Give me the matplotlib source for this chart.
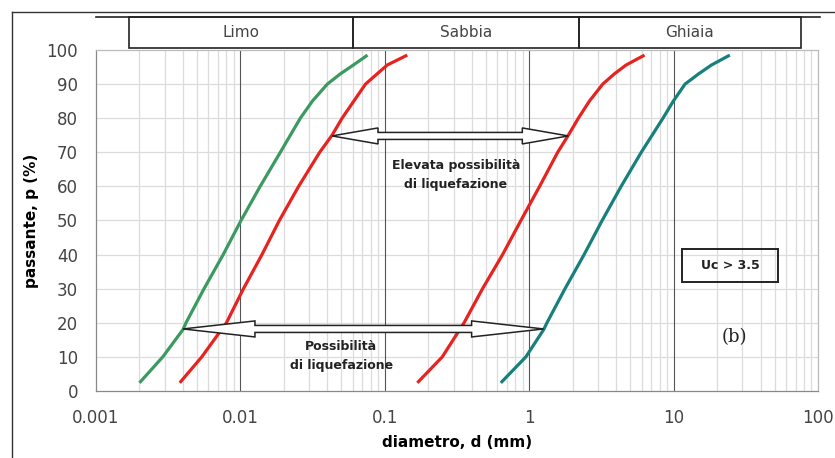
import matplotlib
matplotlib.use("Agg")
import matplotlib.pyplot as plt
from matplotlib.patches import Polygon, Rectangle
from matplotlib.lines import Line2D
from matplotlib.transforms import IdentityTransform
from matplotlib.ticker import FixedLocator, NullFormatter

# curve data (diametro mm, passante %)
green_d = [0.002, 0.0029, 0.004, 0.0042, 0.0056, 0.0076, 0.0101, 0.0137,
           0.0189, 0.026, 0.0315, 0.04, 0.0492, 0.0606, 0.0759]
green_p = [2.4, 10, 18, 20, 30, 40, 50, 60, 70, 80, 85, 90, 93, 95.6, 98.5]
red1_d = [0.0038, 0.0054, 0.0080, 0.0105, 0.0141, 0.0186, 0.0253, 0.0354,
          0.0431, 0.0506, 0.0735, 0.0885, 0.104, 0.143]
red1_p = [2.4, 10, 20, 30, 40, 50, 60, 70, 75, 80, 90, 93, 95.6, 98.5]
red2_d = [0.168, 0.250, 0.354, 0.475, 0.654, 0.876, 1.18, 1.575, 1.866, 2.19,
          2.61, 3.23, 3.89, 4.69, 6.29]
red2_p = [2.4, 10, 20, 30, 40, 50, 60, 70, 75, 80, 85, 90, 93, 95.6, 98.5]
teal_d = [0.636, 0.948, 1.259, 1.327, 1.77, 2.40, 3.20, 4.33, 5.97, 8.44, 9.95,
          12.0, 14.9, 18.3, 24.5]
teal_p = [2.4, 10, 18, 20, 30, 40, 50, 60, 70, 80, 85, 90, 93, 95.6, 98.5]

# soil classes band
band_edges = [0.0017, 0.06, 2.2, 76]
band_labels = ["Limo", "Sabbia", "Ghiaia"]

# arrows: (x start, x end, p)
arrow_hi = (0.0431, 1.866, 74.8)
arrow_lo = (0.004, 1.259, 18.2)

xticks = [0.001, 0.01, 0.1, 1, 10, 100]
xticklabels = ["0.001", "0.01", "0.1", "1", "10", "100"]
yticks = list(range(0, 101, 10))

fig = plt.figure(figsize=(8.35, 4.58), dpi=100)
ax = fig.add_axes([96/835, 67/458, 722/835, 341/458])
ax.set_xscale("log")
ax.set_xlim(0.001, 100)
ax.set_ylim(0, 100)

minor = [m * 10.0**e for e in range(-3, 2) for m in range(2, 10)]
for v in minor:
    ax.axvline(v, color="#dcdcdc", lw=0.9, zorder=0)
for v in yticks[1:-1]:
    ax.axhline(v, color="#dcdcdc", lw=0.9, zorder=0)
for v in xticks[1:-1]:
    ax.axvline(v, color="#555555", lw=0.8, zorder=1)

kw = dict(lw=2.3, zorder=3, solid_joinstyle="round", solid_capstyle="butt")
ax.plot(green_d, green_p, color="#3a9a60", **kw)
ax.plot(red1_d, red1_p, color="#e8231f", **kw)
ax.plot(red2_d, red2_p, color="#e8231f", **kw)
ax.plot(teal_d, teal_p, color="#17807c", **kw)

ax.xaxis.set_major_locator(FixedLocator(xticks))
ax.xaxis.set_minor_formatter(NullFormatter())
ax.set_xticks(xticks)
ax.set_xticklabels(xticklabels)
ax.set_yticks(yticks)
ax.tick_params(which="both", length=0, labelsize=12, labelcolor="#444444")
ax.tick_params(axis="x", pad=13)
ax.tick_params(axis="y", pad=13)
for s in ax.spines.values():
    s.set_color("#bbbbbb")
    s.set_linewidth(0.9)
ax.spines["left"].set_color("#888888")
ax.spines["bottom"].set_color("#888888")

ax.set_xlabel("diametro, d (mm)", fontsize=11, fontweight="bold", labelpad=6)
ax.set_ylabel("passante, p (%)", fontsize=11, fontweight="bold", labelpad=5)

# band boxes above the plot
btr = ax.get_xaxis_transform()
ax.add_line(Line2D([0.001, 103], [1.097, 1.097], transform=btr, color="#222222", lw=1.2, clip_on=False))
for i, lab in enumerate(band_labels):
    x0, x1 = band_edges[i], band_edges[i + 1]
    ax.add_patch(Rectangle((x0, 1.006), x1 - x0, 0.091, transform=btr, fill=False,
                           ec="#222222", lw=1.2, clip_on=False))
    xm = (x0 * x1) ** 0.5
    ax.text(xm, 1.052, lab, transform=btr, ha="center", va="center", fontsize=11, color="#444444")

# outer frame lines
fig.add_artist(Line2D([12/835, 1], [1 - 12/458, 1 - 12/458], transform=fig.transFigure, color="#333333", lw=1))
fig.add_artist(Line2D([12/835, 12/835], [0, 1 - 12/458], transform=fig.transFigure, color="#333333", lw=1))


def double_arrow(x0, x1, y, head_len, head_w=8, shaft_w=3.5):
    (px0, py), (px1, _) = ax.transData.transform([(x0, y), (x1, y)])
    pts = [(px0, py), (px0 + head_len, py + head_w), (px0 + head_len, py + shaft_w),
           (px1 - head_len, py + shaft_w), (px1 - head_len, py + head_w), (px1, py),
           (px1 - head_len, py - head_w), (px1 - head_len, py - shaft_w),
           (px0 + head_len, py - shaft_w), (px0 + head_len, py - head_w)]
    fig.add_artist(Polygon(pts, closed=True, transform=IdentityTransform(),
                           fc="white", ec="#222222", lw=1.1, zorder=5))


double_arrow(*arrow_hi, head_len=46)
double_arrow(*arrow_lo, head_len=72)

ax.text(0.31, 63.3, "Elevata possibilità\ndi liquefazione", ha="center", va="center",
        fontsize=9, fontweight="bold", color="#222222", linespacing=1.55, zorder=6)
ax.text(0.05, 10.3, "Possibilità\ndi liquefazione", ha="center", va="center",
        fontsize=9, fontweight="bold", color="#222222", linespacing=1.55, zorder=6)
ax.add_patch(Rectangle((11.5, 32), 52.5 - 11.5, 9.6, fill=False, ec="#222222", lw=1.4, zorder=6))
ax.text(24.6, 36.8, "Uc > 3.5", ha="center", va="center", fontsize=9, fontweight="bold",
        color="#222222", zorder=6)
ax.text(26.3, 15.8, "(b)", ha="center", va="center", fontsize=13,
        family="DejaVu Serif", color="#222222")

fig.savefig("out.png", dpi=100)
